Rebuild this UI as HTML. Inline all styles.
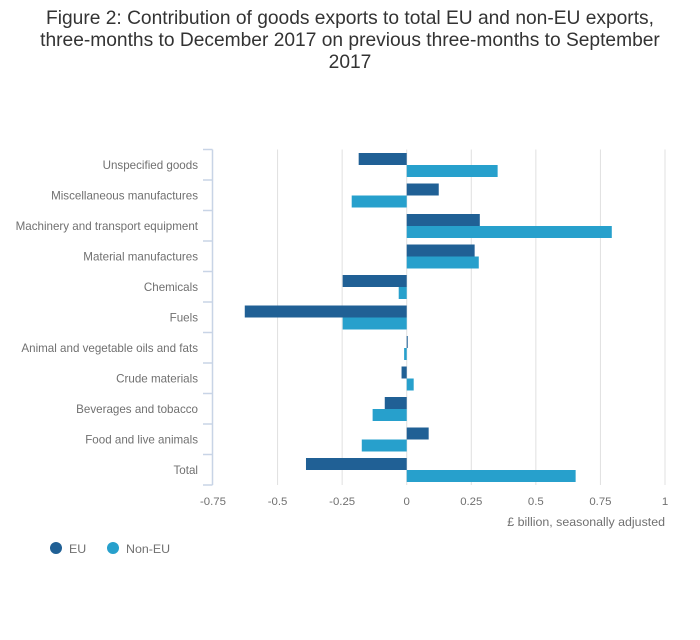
<!DOCTYPE html>
<html><head><meta charset="utf-8"><style>
body{margin:0;background:#fff;width:700px;height:635px;overflow:hidden;font-family:"Liberation Sans",sans-serif}
</style></head><body>
<svg width="700" height="635" font-family="Liberation Sans, sans-serif">
<text x="350" y="24" text-anchor="middle" font-size="19.2" fill="#333"><tspan x="350">Figure 2: Contribution of goods exports to total EU and non-EU exports,</tspan><tspan x="350" dy="22">three-months to December 2017 on previous three-months to September</tspan><tspan x="350" dy="22">2017</tspan></text>
<g id="grid"></g><g id="bars"></g><g id="axes"></g>
<text x="665" y="526" text-anchor="end" font-size="12.4" fill="#707070">£ billion, seasonally adjusted</text>
<g>
<circle cx="56" cy="548" r="6" fill="#206095"/>
<text x="69" y="553" font-size="12.4" fill="#707070">EU</text>
<circle cx="113" cy="548" r="6" fill="#27a0cc"/>
<text x="126" y="553" font-size="12.4" fill="#707070">Non-EU</text>
</g>
</svg>
<script>
const categories=["Unspecified goods","Miscellaneous manufactures","Machinery and transport equipment","Material manufactures","Chemicals","Fuels","Animal and vegetable oils and fats","Crude materials","Beverages and tobacco","Food and live animals","Total"];
const euValues=[-0.186,0.124,0.283,0.263,-0.248,-0.627,0.004,-0.02,-0.085,0.085,-0.39];
const nonEuValues=[0.352,-0.213,0.794,0.279,-0.031,-0.248,-0.01,0.027,-0.132,-0.174,0.654];
const xTicks=[-0.75,-0.5,-0.25,0,0.25,0.5,0.75,1];
const xTickLabels=["-0.75","-0.5","-0.25","0","0.25","0.5","0.75","1"];
const NS="http://www.w3.org/2000/svg";
const x0=213,x1=665,vmin=-0.75,vmax=1,plotTop=149.5,rowH=30.5;
function xs(v){return x0+(v-vmin)/(vmax-vmin)*(x1-x0);}
function ys(i){return plotTop+i*rowH;}
function mk(tag,attrs,parent,txt){const e=document.createElementNS(NS,tag);for(const k in attrs)e.setAttribute(k,attrs[k]);if(txt!=null)e.textContent=txt;document.getElementById(parent).appendChild(e);return e;}
xTicks.forEach((t,i)=>{
  if(i>0){const g=mk('line',{x1:xs(t),x2:xs(t),y1:plotTop,y2:ys(categories.length),stroke:'#e0e0e0','stroke-width':1},'grid');
  
  }
  const l=mk('text',{x:xs(t),y:505,'text-anchor':'middle','font-size':11.4,fill:'#707070'},'axes',xTickLabels[i]);
  
  
});
const ax=mk('line',{x1:212.5,x2:212.5,y1:plotTop,y2:ys(categories.length),stroke:'#c8d4e6','stroke-width':1.5},'axes');


for(let i=0;i<=categories.length;i++){
  const tk=mk('line',{x1:203,x2:212.5,y1:ys(i),y2:ys(i),stroke:'#c8d4e6','stroke-width':1.5},'axes');
  
  
}
categories.forEach((c,i)=>{
  const cy=ys(i)+rowH/2;
  const t=mk('text',{x:198,y:cy+4,'text-anchor':'end','font-size':11.6,fill:'#707070'},'axes',c);
  
  
  const z=xs(0);
  const e=euValues[i],n=nonEuValues[i];
  const b1=mk('rect',{x:Math.min(xs(e),z),y:ys(i)+3.5,width:Math.abs(xs(e)-z),height:12,fill:'#206095'},'bars');
  
  
  const b2=mk('rect',{x:Math.min(xs(n),z),y:ys(i)+15.5,width:Math.abs(xs(n)-z),height:12,fill:'#27a0cc'},'bars');
  
  
});
</script>
</body></html>
